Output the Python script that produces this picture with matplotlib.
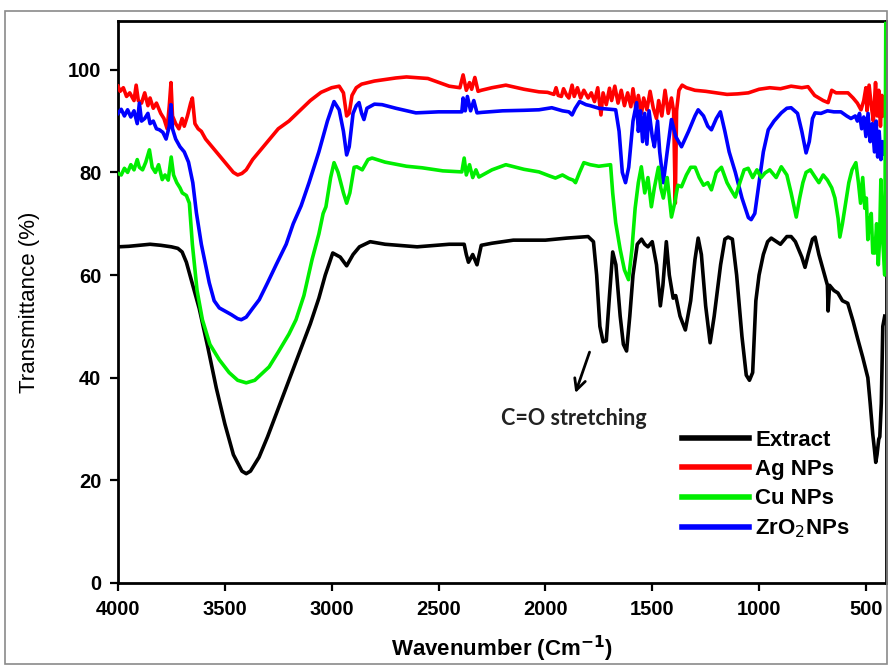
import matplotlib
matplotlib.use("Agg")
import matplotlib.pyplot as plt
from matplotlib.patches import Rectangle

plt.rcParams['font.family'] = ['Liberation Sans', 'DejaVu Sans']

# ---------------- data ----------------
ext_wn = [4000, 3950, 3900, 3850, 3800, 3750, 3720, 3700, 3680, 3650, 3620, 3580, 3540, 3500,
          3460, 3420, 3400, 3380, 3340, 3300, 3250, 3200, 3150, 3100, 3060, 3030, 2995, 2960,
          2930, 2900, 2870, 2820, 2750, 2600, 2450, 2380, 2370, 2360, 2340, 2320, 2300, 2250,
          2150, 2000, 1900, 1800, 1775, 1760, 1745, 1730, 1715, 1700, 1685, 1670, 1650, 1635,
          1620, 1605, 1590, 1570, 1550, 1535, 1520, 1500, 1480, 1462, 1450, 1434, 1420, 1402,
          1390, 1370, 1345, 1320, 1300, 1285, 1270, 1250, 1229, 1210, 1180, 1160, 1145, 1125,
          1105, 1080, 1060, 1045, 1030, 1015, 1000, 980, 960, 943, 900, 870, 850, 830, 800,
          785, 770, 750, 738, 720, 700, 680, 677, 670, 650, 631, 610, 585, 560, 538, 515, 491,
          480, 468, 460, 454, 448, 440, 435, 428, 421, 412]
ext_t = [65.5, 65.6, 65.8, 66.0, 65.8, 65.5, 65.2, 64.5, 62.5, 58, 53.5, 46, 38, 31,
         25, 21.8, 21.3, 21.8, 24.5, 28.5, 34, 39.5, 45, 50.5, 55.5, 60, 64.3, 63.5,
         61.8, 64, 65.5, 66.5, 66, 65.5, 66, 66, 64, 62.5, 64, 62, 65.8, 66.2,
         66.8, 66.8, 67.2, 67.5, 66.5, 60, 50, 47, 47.2, 56, 64.5, 62, 52, 46.5,
         45.2, 52, 60, 66, 67, 66, 65.5, 66.5, 62, 54, 58, 66.5, 60, 55.5,
         56, 52, 49.3, 55, 63, 67.2, 64, 54, 46.8, 52, 62, 67, 67.4, 67,
         60, 48, 40.5, 39.5, 41, 55, 60, 64, 66.5, 67.2, 66, 67.5, 67.5, 66.5, 63.5,
         61.5, 64, 67, 67.4, 64, 61, 58, 53, 58, 57, 56.5, 55, 54.5, 51, 47.5, 44, 40,
         35, 29, 26, 23.5, 25, 28, 28.5, 35, 50, 52]

ag_wn = [4000, 3990, 3975, 3960, 3945, 3925, 3915, 3905, 3890, 3875, 3860, 3850, 3835, 3820,
         3800, 3785, 3770, 3760, 3752, 3745, 3730, 3715, 3700, 3690, 3675, 3660, 3652, 3640,
         3625, 3610, 3590, 3570, 3550, 3520, 3490, 3460, 3440, 3420, 3400, 3370, 3340, 3300,
         3250, 3200, 3150, 3100, 3050, 3000, 2965, 2945, 2930, 2918, 2905, 2885, 2860, 2800,
         2700, 2650, 2550, 2450, 2400, 2385, 2370, 2355, 2345, 2330, 2315, 2300, 2250, 2185,
         2100, 2030, 1990, 1960, 1950, 1940, 1925, 1915, 1900, 1890, 1875, 1865, 1850, 1835,
         1820, 1800, 1785, 1770, 1755, 1740, 1730, 1715, 1700, 1690, 1675, 1660, 1645, 1630,
         1615, 1600, 1590, 1575, 1565, 1550, 1540, 1525, 1510, 1495, 1480, 1470, 1455, 1440,
         1425, 1410, 1400, 1392, 1386, 1375, 1360, 1340, 1300, 1250, 1200, 1150, 1100, 1050,
         1000, 950, 900, 850, 800, 771, 740, 700, 677, 660, 640, 600, 584, 560, 540, 523,
         510, 500, 495, 485, 475, 465, 455, 447, 440, 432, 425, 418, 410]
ag_t = [96.8, 95.8, 96.5, 94.8, 95.5, 94, 97, 94, 93.5, 95.5, 93, 94.5, 92.5, 93.5,
        91.5, 90.5, 88.5, 93, 97.5, 91, 89.5, 88.5, 90.5, 89, 91, 93.5, 94.5, 89.5,
        88.5, 88, 86.5, 85.5, 84.5, 83, 81.5, 80, 79.5, 79.8, 80.5, 82.5, 84, 86,
        88.5, 90, 92, 94, 95.6, 96.5, 96.8, 95.5, 91, 91.5, 95, 96.5, 97.2, 97.8,
        98.4, 98.6, 98.3, 96.8, 96.5, 99, 96, 97.5, 96.2, 98.5, 95.8, 96, 96.5, 97,
        96.2, 95.7, 95.6, 95.2, 96.5, 95, 94.8, 96.3, 95, 94.5, 97, 94.8, 96.5, 94.5,
        96, 94.5, 95.5, 93.8, 96.5, 91.2, 95.5, 93.2, 96.4, 94, 96.8, 93.5, 96, 93,
        95.5, 92.8, 96.3, 92, 95, 91.5, 94.5, 92.2, 95.8, 92.5, 90.5, 94, 91, 96,
        91.5, 94.5, 92, 74, 92, 96, 97, 96.5, 96, 95.8, 95.5, 95.2, 95.3, 95.5,
        96.2, 96.5, 96.3, 96.8, 96.5, 96.7, 95, 94, 93.6, 96, 95.5, 95.5, 95.5, 94.5, 93.5, 92.2,
        94, 96.5, 92, 97, 93, 90, 97.5, 91, 96, 89, 95, 91, 93]

cu_wn = [4000, 3985, 3970, 3955, 3940, 3925, 3910, 3900, 3885, 3870, 3853, 3840, 3825, 3810,
         3793, 3780, 3765, 3751, 3740, 3725, 3710, 3699, 3680, 3666, 3652, 3630, 3605, 3570,
         3526, 3480, 3440, 3400, 3360, 3293, 3250, 3200, 3167, 3130, 3092, 3060, 3040, 3027,
         3005, 2989, 2970, 2945, 2930, 2915, 2895, 2882, 2857, 2830, 2811, 2750, 2650, 2577,
         2480, 2391, 2380, 2370, 2355, 2340, 2325, 2311, 2250, 2185, 2100, 2030, 1980, 1953,
         1920, 1890, 1870, 1859, 1840, 1820, 1790, 1750, 1695, 1685, 1671, 1650, 1630, 1611,
         1595, 1580, 1565, 1551, 1535, 1520, 1504, 1490, 1471, 1460, 1448, 1430, 1410, 1395,
         1380, 1363, 1340, 1320, 1299, 1280, 1260, 1240, 1223, 1200, 1176, 1150, 1130, 1111,
         1090, 1070, 1051, 1030, 1010, 990, 972, 950, 920, 896, 870, 850, 826, 810, 795,
         780, 760, 738, 720, 700, 680, 660, 645, 630, 622, 610, 595, 580, 565, 547, 535,
         525, 515, 505, 498, 491, 485, 475, 468, 458, 450, 442, 436, 430, 420, 412, 407]
cu_t = [79.8, 79.5, 80.8, 80, 81.5, 80.5, 82.5, 81, 80.5, 82, 84.4, 81, 80, 81.5,
        78.6, 79.5, 78.5, 83, 79.5, 78, 77, 76, 75.5, 74, 66, 57, 51.3, 46.5,
        43.5, 41, 39.5, 39, 39.5, 42.1, 45, 48.5, 51.3, 56, 63, 68, 72, 73.3,
        79, 81.9, 80, 76, 74, 76, 81, 81.1, 80.5, 82.5, 82.8, 82, 81.2, 80.9,
        80.3, 80.1, 82.8, 79.5, 81.5, 79, 80.5, 79.1, 80.5, 81.5, 80.6, 80.1, 79.3, 78.9,
        79.5, 78.8, 78.5, 78, 80, 81.9, 81.5, 81.2, 81.5, 76, 70.2, 65, 61, 59.1,
        65, 73, 78, 81.1, 76, 79, 73.3, 77, 81, 77, 75, 79, 71.3, 74,
        77.5, 77.2, 79.5, 81, 81, 79, 77.5, 78, 76.6, 80, 81, 78, 76.5, 75.2,
        78, 80.5, 80.8, 79, 80.5, 79, 79.9, 80.5, 79, 81.1, 79.5, 76, 71.3, 75, 78,
        80, 80.5, 79.1, 78, 79.5, 78.5, 77, 75, 71, 67.4, 70, 74, 78, 80.5, 81.9, 78,
        74, 79, 73, 75, 66.9, 70, 72, 64.3, 64.3, 70, 62, 67, 78.6, 66, 60, 109]

zr_wn = [4000, 3985, 3970, 3955, 3940, 3925, 3910, 3900, 3890, 3875, 3860, 3850, 3835, 3820,
         3806, 3790, 3775, 3760, 3752, 3745, 3730, 3710, 3690, 3670, 3650, 3633, 3610, 3590,
         3573, 3550, 3526, 3500, 3470, 3440, 3423, 3400, 3370, 3339, 3300, 3260, 3213, 3180,
         3143, 3106, 3060, 3020, 2989, 2965, 2945, 2930, 2918, 2900, 2885, 2872, 2860, 2849,
         2835, 2800, 2764, 2700, 2606, 2500, 2391, 2385, 2375, 2365, 2350, 2335, 2320, 2297,
         2200, 2100, 2030, 1970, 1920, 1890, 1875, 1860, 1840, 1810, 1790, 1750, 1700, 1671,
         1655, 1640, 1625, 1610, 1590, 1573, 1565, 1555, 1545, 1535, 1525, 1515, 1500, 1490,
         1475, 1465, 1448, 1430, 1410, 1390, 1363, 1330, 1300, 1285, 1260, 1240, 1223, 1200,
         1181, 1160, 1140, 1111, 1080, 1050, 1037, 1020, 1000, 980, 957, 930, 896, 870, 850,
         820, 800, 780, 765, 750, 738, 710, 680, 650, 617, 590, 570, 550, 540, 530, 520,
         510, 500, 490, 480, 470, 460, 452, 445, 438, 430, 422, 415, 408]
zr_t = [91.5, 92.3, 91, 92.2, 90.8, 92, 89.5, 93.5, 90, 90.5, 91.5, 89.5, 90, 88.5,
        88.3, 87.8, 86.5, 89, 93.2, 88.5, 86.5, 85, 84, 82, 78, 72.1, 66, 62,
        58.5, 55, 53.6, 53, 52.3, 51.5, 51.3, 51.8, 53.5, 55.2, 58.5, 62, 66, 70,
        73.5, 78, 84, 90, 93.8, 92.2, 88, 83.4, 85, 91.5, 93, 93.6, 91.5, 90.3,
        92.5, 93.3, 93.2, 92.5, 91.6, 91.8, 91.8, 94.5, 92, 94.8, 92, 94, 91.6, 91.7,
        92, 92.1, 92.2, 92.6, 92, 91.8, 91.2, 92.5, 93.8, 93.2, 93, 92.5, 92.3, 92.2,
        88, 80, 78, 81, 90, 93.6, 88, 92, 86, 91.5, 85.5, 92, 87, 85,
        90, 84, 78, 84, 90.3, 87, 85, 88, 91, 92.2, 91, 89, 88.3, 90.5,
        91.8, 88, 84, 80, 75, 71.2, 70.8, 72, 78, 84, 88.3, 90, 91.6, 92.5, 92.6,
        91.5, 88, 83.8, 86, 90.5, 91.6, 91.5, 92, 91.8, 91.8, 91, 90.5, 91, 90, 91.5, 88.5,
        90.8, 87, 91.5, 86, 89.5, 84, 90, 83, 88, 82.5, 86, 83.5, 85]

series = [
    ("Extract", ext_wn, ext_t, "#000000"),
    ("Ag NPs", ag_wn, ag_t, "#ff0000"),
    ("Cu NPs", cu_wn, cu_t, "#00ee00"),
    ("ZrO$_2$NPs", zr_wn, zr_t, "#0000ff"),
]
z_order = {"Extract": 2, "Ag NPs": 3, "Cu NPs": 5, "ZrO$_2$NPs": 4}

x_ticks = [4000, 3500, 3000, 2500, 2000, 1500, 1000, 500]
y_ticks = [0, 20, 40, 60, 80, 100]

# ---------------- figure ----------------
fig = plt.figure(figsize=(8.89, 6.68), dpi=100)
W, H = 889, 668
ax = fig.add_axes([118 / W, 1 - 583 / H, (886 - 118) / W, (583 - 21) / H])

for name, wn, t, col in series:
    ax.plot(wn, t, color=col, lw=2.6, label=name, zorder=z_order[name],
            solid_joinstyle='round')

ax.set_xlim(4000, 406)
ax.set_ylim(0, 109.5)
ax.set_xticks(x_ticks)
ax.set_yticks(y_ticks)
ax.tick_params(direction='out', length=6, width=1.6, labelsize=14.5, pad=6)
for lab in ax.get_xticklabels() + ax.get_yticklabels():
    lab.set_fontweight('bold')
for sp in ax.spines.values():
    sp.set_linewidth(2)

ax.set_xlabel("Wavenumber (Cm$^{\\mathbf{-1}}$)", fontsize=16, fontweight='bold')
ax.xaxis.set_label_coords(0.5, -(649 - 583) / (583 - 21))
ax.xaxis.label.set_va('center')
ax.set_ylabel("Transmittance (%)", fontsize=16)
ax.yaxis.set_label_coords(-(118 - 30) / (886 - 118), 0.5)
ax.yaxis.label.set_va('center')

# annotation
ax.annotate("", xy=(1864, 36.5), xytext=(1789, 45.5),
            arrowprops=dict(arrowstyle='->', lw=2, color='black', mutation_scale=20))
ax.text(1868, 32.0, "C=O stretching", ha='center', va='center', fontsize=15.5,
        family=['Lato', 'DejaVu Sans'], fontweight='bold', color='#222222')

leg = ax.legend(loc='upper left', bbox_to_anchor=(682 / W, 1 - 430 / H),
                bbox_transform=fig.transFigure, frameon=False, borderpad=0,
                borderaxespad=0, handlelength=3.0, handletextpad=0.3,
                labelspacing=0.37, prop={'weight': 'bold', 'size': 16})
for line in leg.get_lines():
    line.set_linewidth(4)

# outer gray frame of the picture
fig.patches.append(Rectangle((5 / W, 1 - 664 / H), 882 / W, 653 / H,
                             transform=fig.transFigure, fill=False,
                             edgecolor='#8a8a8a', lw=1.2))

fig.savefig("out.png", dpi=100)
